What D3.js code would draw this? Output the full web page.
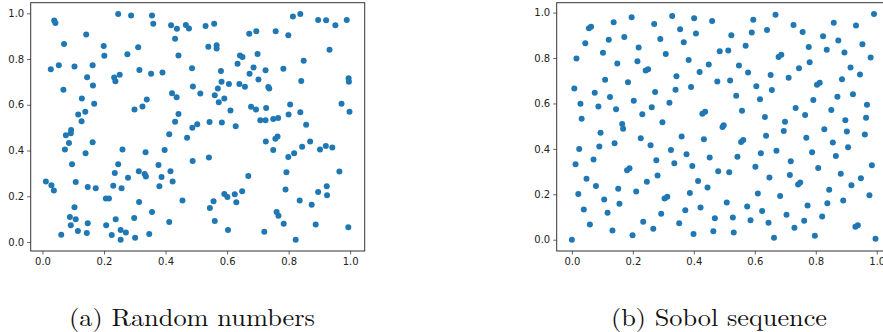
<!DOCTYPE html>
<html>
<head>
<meta charset="utf-8">
<script src="https://cdn.jsdelivr.net/npm/d3@7"></script>
<style>
  html, body { margin: 0; padding: 0; background: #fff; }
  svg { display: block; }
  .tick text { font-family: "DejaVu Sans", sans-serif; font-size: 10px; fill: #222; }
</style>
</head>
<body>
<svg id="chart" width="883" height="332"></svg>
<script>
// ---- data ----
const randomPoints = [
[0.027,0.755],[0.038,0.968],[0.042,0.958],[0.053,0.773],[0.070,0.866],[0.068,0.666],[0.104,0.767],[0.142,0.907],
[0.145,0.720],[0.163,0.773],[0.164,0.684],[0.128,0.627],[0.116,0.557],[0.139,0.569],[0.127,0.528],[0.168,0.604],
[0.199,0.857],[0.201,0.814],[0.233,0.719],[0.237,0.703],[0.251,0.731],[0.246,0.997],[0.288,0.990],[0.276,0.821],
[0.311,0.852],[0.315,0.752],[0.356,0.990],[0.360,0.954],[0.353,0.736],[0.390,0.741],[0.339,0.623],[0.325,0.592],
[0.299,0.579],[0.418,0.948],[0.437,0.932],[0.431,0.889],[0.442,0.815],[0.466,0.949],[0.476,0.933],[0.486,0.760],
[0.489,0.680],[0.421,0.650],[0.436,0.633],[0.442,0.560],[0.431,0.526],[0.487,0.500],
[0.530,0.945],[0.558,0.954],[0.539,0.854],[0.566,0.860],[0.566,0.846],[0.580,0.748],[0.582,0.701],[0.570,0.671],
[0.560,0.642],[0.591,0.627],[0.573,0.611],[0.606,0.691],[0.513,0.649],[0.503,0.515],[0.543,0.525],[0.583,0.523],
[0.628,0.506],[0.611,0.575],[0.672,0.911],[0.695,0.922],[0.758,0.922],[0.799,0.904],[0.814,0.986],[0.838,0.997],
[0.896,0.971],[0.922,0.970],[0.952,0.948],[0.989,0.971],[0.933,0.841],[0.642,0.815],[0.650,0.809],[0.699,0.822],
[0.634,0.779],[0.686,0.763],[0.673,0.736],[0.725,0.751],[0.702,0.710],[0.640,0.691],[0.658,0.679],[0.734,0.678],
[0.737,0.671],[0.783,0.757],[0.849,0.793],[0.841,0.704],[0.995,0.716],[0.996,0.701],[0.678,0.591],[0.694,0.579],
[0.727,0.586],[0.805,0.601],[0.800,0.558],[0.838,0.567],[0.857,0.513],[0.972,0.605],[0.998,0.570],[0.708,0.532],
[0.725,0.532],[0.750,0.538],[0.766,0.542],
[0.076,0.467],[0.093,0.490],[0.092,0.475],[0.086,0.433],[0.073,0.404],[0.163,0.436],[0.140,0.388],[0.096,0.340],
[0.108,0.262],[0.011,0.265],[0.029,0.248],[0.037,0.225],[0.147,0.241],[0.173,0.235],[0.104,0.152],[0.089,0.109],
[0.108,0.099],[0.092,0.073],[0.115,0.048],[0.147,0.082],[0.144,0.039],[0.061,0.032],[0.206,0.190],[0.216,0.190],
[0.230,0.246],[0.235,0.302],[0.246,0.340],[0.260,0.405],[0.257,0.235],[0.278,0.281],[0.238,0.099],[0.207,0.073],
[0.225,0.031],[0.254,0.052],[0.254,0.010],[0.271,0.041],[0.301,0.019],[0.298,0.105],[0.314,0.175],[0.313,0.309],
[0.332,0.297],[0.336,0.286],[0.335,0.392],[0.347,0.035],[0.356,0.131],[0.377,0.337],[0.380,0.244],[0.387,0.284],
[0.397,0.402],[0.412,0.471],[0.416,0.309],[0.423,0.265],[0.412,0.087],[0.455,0.182],[0.470,0.456],[0.488,0.354],
[0.541,0.369],[0.726,0.439],[0.757,0.451],[0.764,0.461],[0.750,0.402],[0.799,0.372],[0.818,0.388],[0.844,0.416],
[0.870,0.439],[0.902,0.405],[0.921,0.420],[0.942,0.413],[0.965,0.308],[0.793,0.305],[0.669,0.289],[0.591,0.210],
[0.601,0.197],[0.625,0.209],[0.649,0.222],[0.630,0.174],[0.556,0.178],[0.544,0.149],[0.560,0.092],[0.603,0.052],
[0.790,0.230],[0.836,0.181],[0.875,0.163],[0.896,0.219],[0.924,0.244],[0.925,0.204],[0.761,0.131],[0.767,0.115],
[0.784,0.080],[0.721,0.045],[0.823,0.010],[0.888,0.076],[0.994,0.064]
];

const sobolPoints = [
[0.008,0.666],[0.015,0.798],[0.028,0.599],[0.032,0.533],[0.044,0.865],[0.056,0.931],[0.063,0.938],[0.075,0.647],
[0.087,0.587],[0.102,0.823],[0.109,0.704],[0.121,0.880],[0.125,0.628],[0.137,0.958],[0.145,0.575],[0.149,0.776],
[0.165,0.510],[0.168,0.489],[0.172,0.893],[0.184,0.693],[0.196,0.980],[0.203,0.612],[0.219,0.846],[0.215,0.786],
[0.231,0.553],[0.242,0.745],[0.250,0.751],[0.262,0.583],[0.270,0.950],[0.273,0.650],[0.290,0.884],[0.297,0.517],
[0.308,0.818],[0.320,0.603],[0.329,0.985],[0.340,0.660],[0.343,0.720],[0.355,0.927],[0.367,0.870],[0.383,0.791],
[0.391,0.672],[0.401,0.975],[0.407,0.908],[0.419,0.739],[0.428,0.555],[0.437,0.564],[0.449,0.772],[0.460,0.963],
[0.485,0.830],[0.477,0.697],[0.523,0.900],[0.513,0.833],[0.519,0.701],[0.548,0.767],[0.539,0.634],[0.558,0.568],
[0.570,0.854],[0.578,0.736],[0.590,0.912],[0.595,0.969],[0.605,0.676],[0.617,0.618],[0.633,0.540],[0.640,0.924],
[0.652,0.725],[0.656,0.659],[0.668,0.991],[0.678,0.805],[0.687,0.814],[0.699,0.520],[0.711,0.713],[0.727,0.946],
[0.734,0.580],[0.745,0.755],[0.757,0.915],[0.765,0.549],[0.777,0.849],[0.780,0.782],[0.792,0.615],[0.804,0.682],
[0.813,0.691],[0.824,0.896],[0.836,0.837],[0.851,0.571],[0.859,0.955],[0.871,0.630],[0.874,0.877],[0.886,0.707],
[0.894,0.824],[0.897,0.526],[0.914,0.758],[0.922,0.641],[0.932,0.943],[0.945,0.728],[0.953,0.861],[0.965,0.537],
[0.968,0.594],[0.980,0.802],[0.991,0.994],[0.494,0.496],[0.498,0.504],[0.828,0.486],
[0.094,0.471],[0.000,0.000],[0.012,0.332],[0.024,0.400],[0.021,0.201],[0.039,0.133],[0.048,0.268],[0.059,0.067],
[0.071,0.353],[0.079,0.236],[0.090,0.411],[0.106,0.177],[0.117,0.119],[0.133,0.041],[0.140,0.425],[0.152,0.224],
[0.156,0.158],[0.181,0.306],[0.189,0.315],[0.199,0.020],[0.211,0.212],[0.226,0.447],[0.234,0.079],[0.246,0.255],
[0.258,0.416],[0.267,0.048],[0.277,0.350],[0.281,0.283],[0.293,0.114],[0.304,0.182],[0.313,0.189],[0.325,0.395],
[0.336,0.337],[0.352,0.072],[0.360,0.454],[0.372,0.130],[0.376,0.376],[0.387,0.206],[0.395,0.325],[0.399,0.025],
[0.414,0.259],[0.422,0.142],[0.433,0.442],[0.445,0.230],[0.452,0.362],[0.464,0.037],[0.469,0.095],
[0.695,0.479],[0.637,0.458],[0.769,0.449],[0.902,0.476],[0.961,0.463],[0.555,0.430],[0.562,0.439],[0.543,0.365],
[0.620,0.381],[0.671,0.392],[0.718,0.346],[0.788,0.385],[0.856,0.428],[0.866,0.369],[0.906,0.407],[0.984,0.328],
[0.480,0.302],[0.516,0.297],[0.602,0.321],[0.648,0.274],[0.715,0.285],[0.742,0.243],[0.749,0.252],[0.808,0.316],
[0.882,0.290],[0.948,0.271],[0.917,0.240],[0.844,0.220],[0.610,0.204],[0.683,0.193],[0.976,0.196],[0.508,0.164],
[0.575,0.146],[0.624,0.126],[0.773,0.151],[0.838,0.161],[0.890,0.173],[0.528,0.098],[0.586,0.086],[0.645,0.075],
[0.704,0.110],[0.762,0.083],[0.821,0.102],[0.730,0.053],[0.531,0.032],[0.663,0.009],[0.797,0.018],[0.930,0.057],
[0.938,0.064],[0.996,0.004]
];

const tickValues = [0.0, 0.2, 0.4, 0.6, 0.8, 1.0];
const captions = ["(a) Random numbers", "(b) Sobol sequence"];

// ---- drawing ----
const svg = d3.select("#chart");
const pointColor = "#1f77b4";

function padded(vals) {
  const [lo, hi] = d3.extent(vals);
  const m = (hi - lo) * 0.05;
  return [lo - m, hi + m];
}

function panel(data, left, caption, captionCenter, captionWidth) {
  const top = 2.7, width = 334, height = 248.3;
  const g = svg.append("g");
  const x = d3.scaleLinear().domain(padded(data.map(d => d[0]))).range([left, left + width]);
  const y = d3.scaleLinear().domain(padded(data.map(d => d[1]))).range([top + height, top]);

  g.selectAll("circle").data(data).join("circle")
    .attr("cx", d => x(d[0])).attr("cy", d => y(d[1])).attr("r", 3.0)
    .attr("fill", pointColor);

  const fmt = d3.format(".1f");
  const xa = g.append("g").attr("transform", `translate(0,${top + height})`)
    .call(d3.axisBottom(x).tickValues(tickValues).tickFormat(fmt).tickSizeOuter(0).tickSize(3.5).tickPadding(3));
  const ya = g.append("g").attr("transform", `translate(${left},0)`)
    .call(d3.axisLeft(y).tickValues(tickValues).tickFormat(fmt).tickSizeOuter(0).tickSize(3.5).tickPadding(3));
  [xa, ya].forEach(a => {
    a.select(".domain").remove();
    a.selectAll(".tick line").attr("stroke", "#555").attr("stroke-width", 0.9);
  });

  g.append("rect").attr("x", left).attr("y", top).attr("width", width).attr("height", height)
    .attr("fill", "none").attr("stroke", "#333").attr("stroke-width", 1);

  g.append("text").attr("x", captionCenter).attr("y", 326)
    .attr("text-anchor", "middle")
    .attr("font-family", "'Latin Modern Roman', 'CMU Serif', 'Liberation Serif', serif")
    .attr("font-size", 24).attr("fill", "#111")
    .attr("textLength", captionWidth).attr("lengthAdjust", "spacingAndGlyphs")
    .text(caption);
}

panel(randomPoints, 30.7, captions[0], 192, 246);
panel(sobolPoints, 556.7, captions[1], 719, 216);
</script>
</body>
</html>
